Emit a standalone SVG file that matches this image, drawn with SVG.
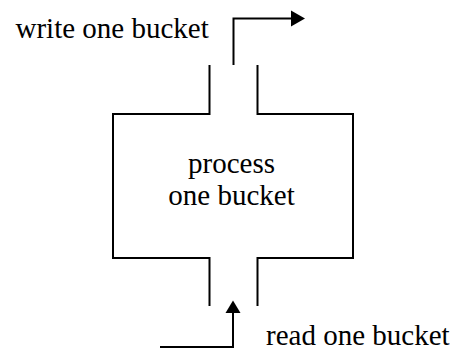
<svg xmlns="http://www.w3.org/2000/svg" width="455" height="352" viewBox="0 0 455 352">
  <style>
    .wire { fill: none; stroke: #000; stroke-width: 2; stroke-linecap: butt; stroke-linejoin: miter; }
    .head { fill: #000; stroke: none; }
    .lbl { font-family: "Liberation Serif", "Times New Roman", serif; font-size: 29px; fill: #000; }
  </style>
  <rect width="455" height="352" fill="#fff"/>

  <!-- processing block: walls with an inlet gap at the bottom and an outlet gap at the top -->
  <g id="process">
    <path class="wire" d="M209.5,65 V114 H113 V258 H209.5 V306"/>
    <path class="wire" d="M257.5,65 V114 H353 V258 H257.5 V306"/>
    <text class="lbl" x="231.5" y="173" text-anchor="middle">process</text>
    <text class="lbl" x="231.5" y="205" text-anchor="middle">one bucket</text>
  </g>

  <g id="write-label">
    <text class="lbl" x="15.5" y="38">write one bucket</text>
  </g>

  <g id="read-label">
    <text class="lbl" x="266" y="345">read one bucket</text>
  </g>

  <!-- connectors -->
  <g id="connectors">
    <path class="wire" d="M233.5,65 V18.5 H292"/>
    <polygon class="head" points="291,10.5 305,18.5 291,26.5"/>
    <path class="wire" d="M160,347 H233 V312"/>
    <polygon class="head" points="225.5,313 233,300.5 240.5,313"/>
  </g>
</svg>
